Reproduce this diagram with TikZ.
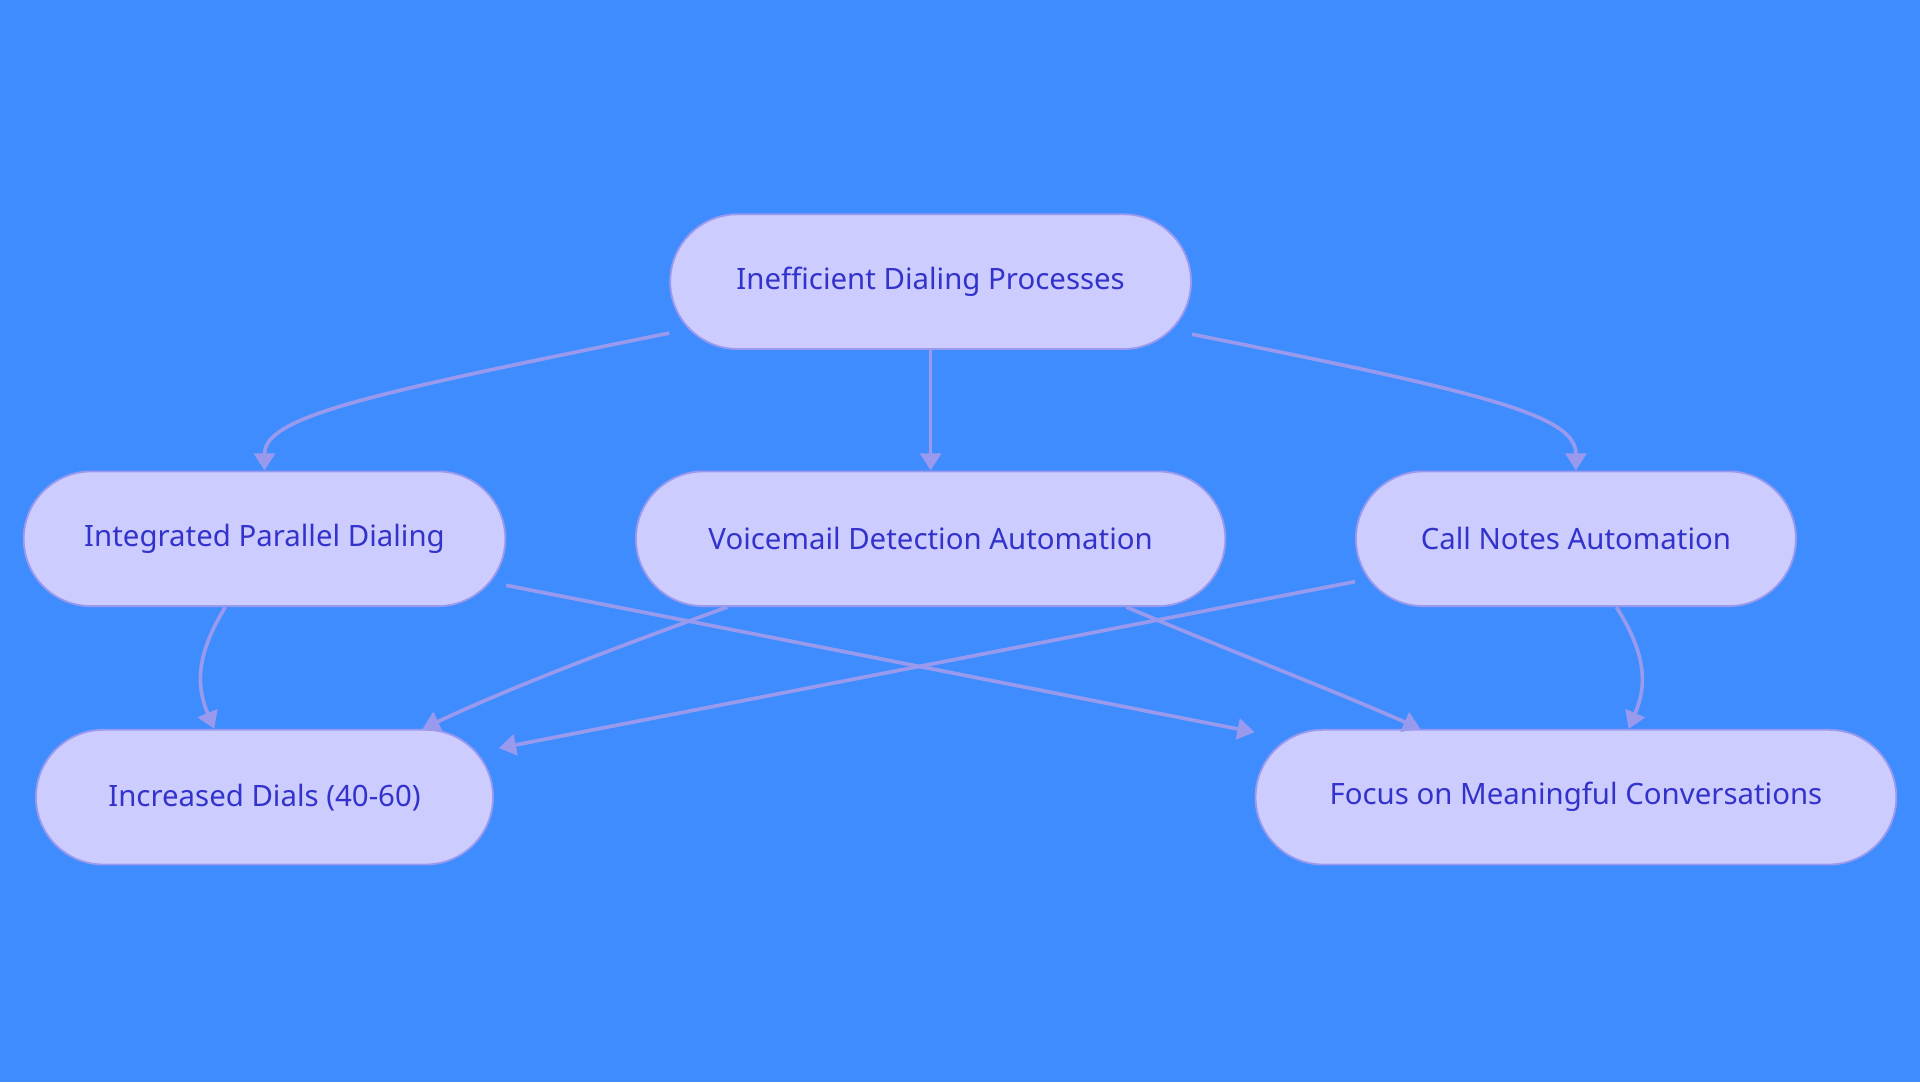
\documentclass[tikz,border=0pt]{standalone}
\usepackage{fontspec}
\setmainfont{Noto Sans}
\usetikzlibrary{shapes.misc,arrows.meta,calc}
\definecolor{fond}{HTML}{3F8CFF}
\definecolor{boite}{HTML}{CCCCFF}
\definecolor{bord}{HTML}{9999EE}
\definecolor{texte}{HTML}{3333CC}

\begin{document}
\begin{tikzpicture}[x=1pt, y=-1pt, >={Triangle[length=14pt,width=17pt]},
    etape/.style={rounded rectangle, draw=bord, line width=1.5pt, fill=boite,
        text=texte, minimum height=110pt, font=\fontsize{24}{28}\selectfont},
    lien/.style={->, draw=bord, line width=3pt}]
                % fond
                \fill[fond] (0,0) rectangle (1568,884);

                % noeuds
                \node[etape, minimum width=432pt] (ineff) at (760,230) {Inefficient Dialing Processes};
                \node[etape, minimum width=400pt] (para) at (216,440) {Integrated Parallel Dialing};
                \node[etape, minimum width=488pt] (voice) at (760,440) {Voicemail Detection Automation};
                \node[etape, minimum width=366pt] (notes) at (1287,440) {Call Notes Automation};
                \node[etape, minimum width=380pt] (dials) at (216,651) {Increased Dials (40-60)};
                \node[etape, minimum width=530pt] (focus) at (1287,651) {Focus on Meaningful Conversations};

                % liens du haut
                \draw[lien] ($(ineff.west)+(0,42)$) .. controls (300,322) and (216,340) .. (para.north);
                \draw[lien] (ineff.south) -- (voice.north);
                \draw[lien] ($(ineff.east)+(0,43)$) .. controls (1220,322) and (1287,340) .. (notes.north);

                % liens du bas
                \draw[lien] ($(para.south)+(-32,0)$) .. controls (160,535) and (160,560) .. ($(dials.north)+(-41,0)$);
                \draw[lien] ($(para.east)+(0,38)$) -- ($(focus.west)+(0,-53)$);
                \draw[lien] ($(voice.south)+(-166,0)$) .. controls (500,530) and (420,560) .. ($(dials.north)+(129,0)$);
                \draw[lien] ($(voice.south)+(160,0)$) .. controls (1000,530) and (1080,560) .. ($(focus.north)+(-127,0)$);
                \draw[lien] ($(notes.west)+(0,35)$) -- ($(dials.east)+(4,-40)$);
                \draw[lien] ($(notes.south)+(33,0)$) .. controls (1345,535) and (1345,560) .. ($(focus.north)+(43,0)$);
\end{tikzpicture}
\end{document}
